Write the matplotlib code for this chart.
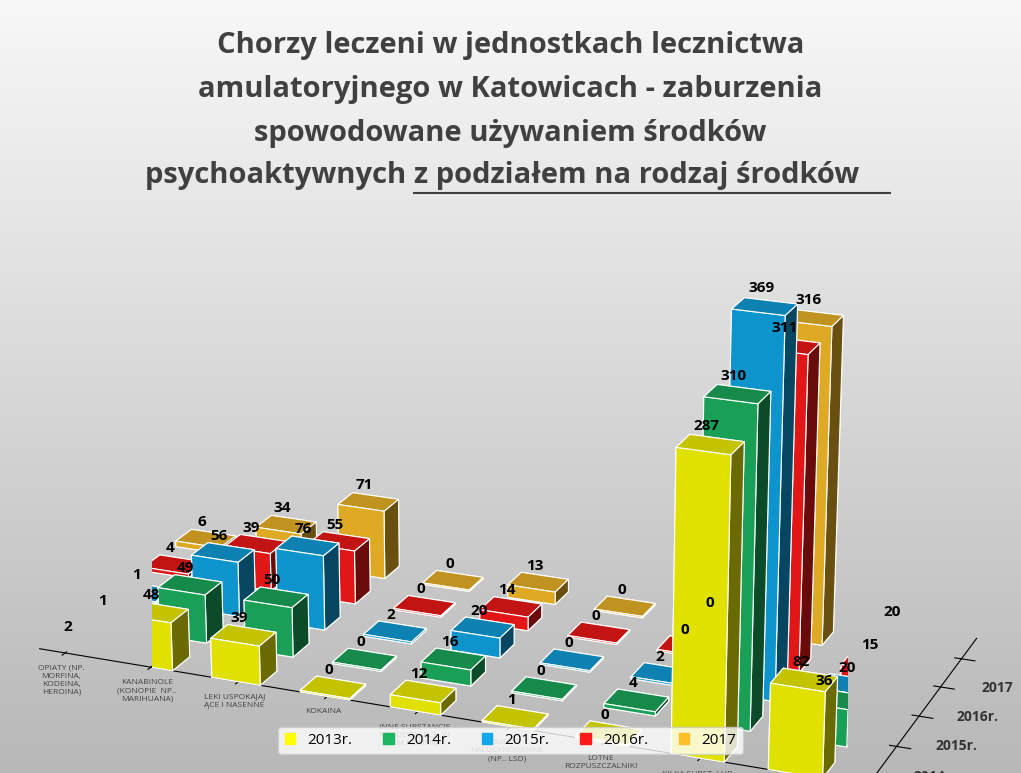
import matplotlib
matplotlib.use("Agg")
import matplotlib.pyplot as plt
import numpy as np
from matplotlib.patches import Patch

categories = ["OPIATY (NP.\nMORFINA,\nKODEINA,\nHEROINA)", "KANABINOLE\n(KONOPIE  NP..\nMARIHUANA)",
              "LEKI USPOKAJAJ\nĄCE I NASENNE", "KOKAINA", "INNE SUBSTANCJE\nPOBUDZAJ ACE, W\nTYM KOFEINA",
              "SUBST.\nHALUCYNOGENNE\n(NP.. LSD)", "LOTNE\nROZPUSZCZALNIKI",
              "KILKA SUBST. LUB\nINNE SUBST.\nPSYCHOAKTYWNE", "UŻYWANIE\nTYTONIU"]
series = ["2013r.", "2014r.", "2015r.", "2016r.", "2017"]
v2013 = [2, 48, 39, 0, 12, 1, 0, 287, 82]
v2014 = [1, 49, 50, 0, 16, 0, 4, 310, 36]
v2015 = [1, 56, 76, 2, 20, 0, 2, 369, 20]
v2016 = [4, 39, 55, 0, 14, 0, 0, 311, 15]
v2017 = [6, 34, 71, 0, 13, 0, 0, 316, 20]
colors = ["#ffff00", "#1db462", "#10a8e8", "#ff1a1a", "#fbbf2a"]
values = [v2013, v2014, v2015, v2016, v2017]

plt.rcParams["font.family"] = "Open Sans"
fig = plt.figure(figsize=(10.21, 7.73), dpi=100)
bg = fig.add_axes([0, 0, 1, 1], zorder=-10)
grad = np.linspace(0.97, 0.72, 256).reshape(-1, 1)
bg.imshow(np.dstack([grad, grad, grad]), aspect="auto", extent=[0, 1, 0, 1])
bg.axis("off")

ax = fig.add_axes([-0.08, -0.05, 1.14, 0.9], projection="3d")
ax.set_facecolor((0, 0, 0, 0))
for a in (ax.xaxis, ax.yaxis, ax.zaxis):
    a.set_pane_color((1, 1, 1, 0))
ax.grid(False)
n = len(categories)
for j in range(4, -1, -1):
    for i in range(n - 1, -1, -1):
        h = max(values[j][i], 1.5)
        ax.bar3d(i, j, 0, 0.55, 0.5, h, color=colors[j], edgecolor="white", linewidth=0.8, shade=True)
        ax.text(i + 0.25, j + 0.2, h + 14, str(values[j][i]), fontsize=11, fontweight="bold", ha="center", zorder=100)
ax.set_xticks(np.arange(n) + 0.3)
ax.set_xticklabels(categories, fontsize=6, color="#444444")
ax.set_yticks(np.arange(5) + 0.25)
ax.set_yticklabels(series, fontsize=10, fontweight="bold", color="#333333")
ax.set_zticks([])
ax.set_zlim(0, 380)
ax.set_xlim(0, n)
ax.set_ylim(0, 5)
ax.view_init(elev=20, azim=-68)
ax.set_box_aspect((3.2, 1.4, 1.5), zoom=1.45)
ax.zaxis.line.set_color((0, 0, 0, 0))
ax.tick_params(axis="x", pad=-2)

lines = ["Chorzy leczeni w jednostkach lecznictwa", "amulatoryjnego w Katowicach - zaburzenia",
         "spowodowane używaniem środków"]
for k, t in enumerate(lines):
    fig.text(0.5, 1 - (45 + 44 * k) / 773, t, ha="center", va="center", fontsize=21, fontweight="bold", color="#404040")
y4 = 1 - 176 / 773
fig.text(0.405, y4, "psychoaktywnych ", ha="right", va="center", fontsize=21, fontweight="bold", color="#404040")
fig.text(0.405, y4, "z podziałem na rodzaj środków", ha="left", va="center", fontsize=21, fontweight="bold", color="#404040")
fig.lines.append(plt.Line2D([0.405, 0.872], [1 - 193 / 773] * 2, color="#404040", lw=1.5, transform=fig.transFigure))

handles = [Patch(color=c) for c in colors]
fig.legend(handles, series, loc="lower center", bbox_to_anchor=(0.5, 0.015), ncol=5, fontsize=11,
           frameon=True, facecolor="white", edgecolor="#cccccc", handlelength=0.7, handleheight=0.7)
fig.savefig("out.png", dpi=100)
